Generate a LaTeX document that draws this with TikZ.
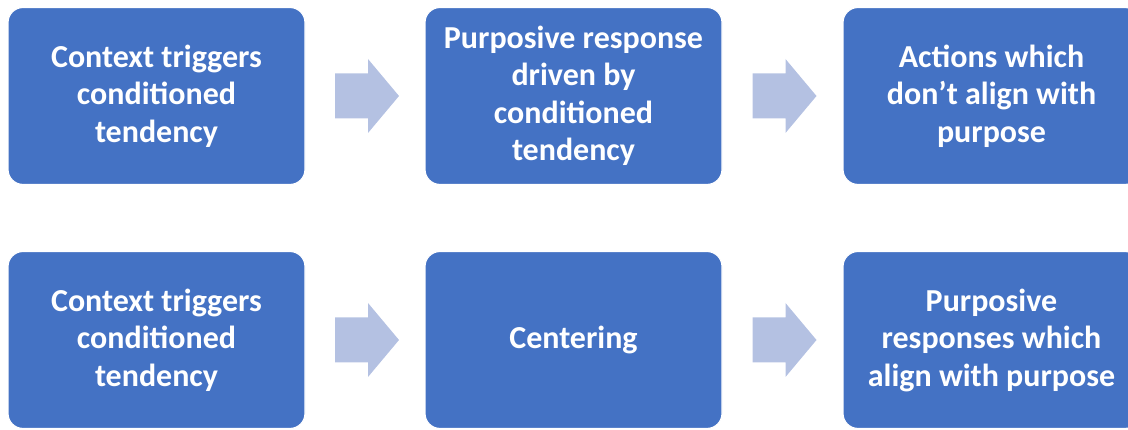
\documentclass[tikz,border=0pt]{standalone}
\usepackage{fontspec}
\setmainfont{Carlito}
\usepackage{tikz}
\usetikzlibrary{calc,positioning}

\definecolor{boxblue}{RGB}{68,114,196}
\definecolor{arrowblue}{RGB}{180,193,226}

\begin{document}
\begin{tikzpicture}[x=1pt,y=1pt,
		stepbox/.style={rectangle, rounded corners=15pt, fill=boxblue, draw=white, line width=1.2pt,
			minimum width=297pt, minimum height=177pt, align=center, text=white,
			font=\fontsize{32}{37.5}\selectfont\bfseries},
		blockarrow/.style={fill=arrowblue, draw=none}]
		\clip (0,0) rectangle (1128,430);

		% top row
		\node[stepbox] (trigA) at (156.5,334) {Context triggers\\conditioned\\tendency};
		\node[stepbox] (respA) at (573.5,334) {Purposive response\\driven by\\conditioned\\tendency};
		\node[stepbox] (actA) at (991.5,334) {Actions which\\don’t align with\\purpose};

		% bottom row
		\node[stepbox] (trigB) at (156.5,90) {Context triggers\\conditioned\\tendency};
		\node[stepbox] (centB) at (573.5,90) {Centering};
		\node[stepbox] (actB) at (991.5,90) {Purposive\\responses which\\align with purpose};

		\foreach \from/\to in {trigA/respA, respA/actA, trigB/centB, centB/actB}
		{
			\path (\from.east) -- (\to.west) coordinate[midway] (m);
			\fill[blockarrow] ($(m)+(-30,-22.5)$) -- ($(m)+(3,-22.5)$) -- ($(m)+(3,-37)$)
				-- ($(m)+(34,0)$) -- ($(m)+(3,37)$) -- ($(m)+(3,22.5)$) -- ($(m)+(-30,22.5)$) -- cycle;
		}
	\end{tikzpicture}
\end{document}
